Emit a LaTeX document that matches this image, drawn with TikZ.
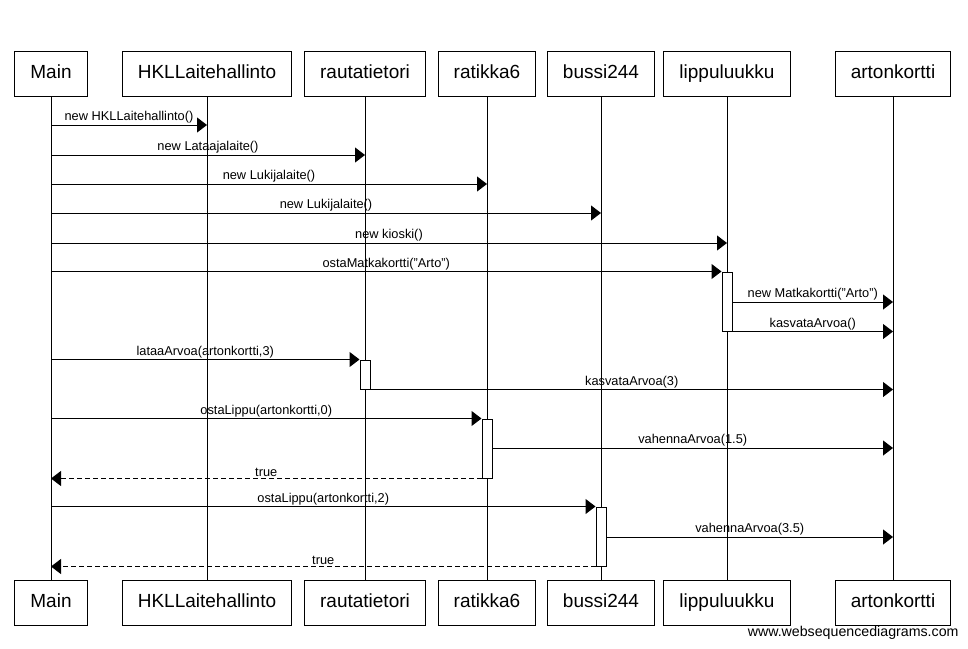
\documentclass[tikz,border=0pt]{standalone}
\usepackage{fontspec}
\setmainfont{Liberation Sans}
\usetikzlibrary{arrows.meta,positioning}

\begin{document}
\begin{tikzpicture}[x=1pt,y=-1pt,>={Triangle[length=10pt,width=15pt]},line width=1pt,
                    actor/.style={rectangle,draw,inner xsep=15.5pt,inner ysep=0pt,minimum height=45pt,
                                  text height=14pt,text depth=4pt,font=\fontsize{19}{19}\selectfont},
                    act/.style={rectangle,draw,fill=white,minimum width=10pt,inner sep=0pt},
                    msg/.style={->},
                    reply/.style={->,dash pattern=on 5pt off 3pt},
                    lbl/.style={above,inner sep=1pt,font=\fontsize{12.8}{12.8}\selectfont}]
  \useasboundingbox (0,0) rectangle (968,648);
  % participants
  \node[actor] (main) at (51,73.5) {Main};
  \node[actor] (hkl) at (207,73.5) {HKLLaitehallinto};
  \node[actor] (raut) at (365,73.5) {rautatietori};
  \node[actor] (ratikka) at (487,73.5) {ratikka6};
  \node[actor] (bussi) at (601,73.5) {bussi244};
  \node[actor] (lippu) at (727,73.5) {lippuluukku};
  \node[actor] (arton) at (893,73.5) {artonkortti};
  \node[actor] (main2) [below=483pt of main] {Main};
  \node[actor] (hkl2) [below=483pt of hkl] {HKLLaitehallinto};
  \node[actor] (raut2) [below=483pt of raut] {rautatietori};
  \node[actor] (ratikka2) [below=483pt of ratikka] {ratikka6};
  \node[actor] (bussi2) [below=483pt of bussi] {bussi244};
  \node[actor] (lippu2) [below=483pt of lippu] {lippuluukku};
  \node[actor] (arton2) [below=483pt of arton] {artonkortti};
  \node[anchor=base east,inner sep=0pt,font=\fontsize{14.2}{14.2}\selectfont] (wsd) at (959,636) {www.websequencediagrams.com};
  % lifelines
  \draw (main) -- (main2);
  \draw (hkl) -- (hkl2);
  \draw (raut) -- (raut2);
  \draw (ratikka) -- (ratikka2);
  \draw (bussi) -- (bussi2);
  \draw (lippu) -- (lippu2);
  \draw (arton) -- (arton2);
  % activations
  \node[act,minimum height=59pt] (a1) at (727,301.5) {};
  \node[act,minimum height=29pt] (a2) at (365,374.5) {};
  \node[act,minimum height=59pt] (a3) at (487,448.5) {};
  \node[act,minimum height=59pt] (a4) at (601,536.5) {};
  % messages
  \draw[msg] (main |- 0,125) -- node[lbl] {new HKLLaitehallinto()} (hkl |- 0,125);
  \draw[msg] (main |- 0,155) -- node[lbl] {new Lataajalaite()} (raut |- 0,155);
  \draw[msg] (main |- 0,184) -- node[lbl] {new Lukijalaite()} (ratikka |- 0,184);
  \draw[msg] (main |- 0,213) -- node[lbl] {new Lukijalaite()} (bussi |- 0,213);
  \draw[msg] (main |- 0,243) -- node[lbl] {new kioski()} (lippu |- 0,243);
  \draw[msg] (main |- a1.north) -- node[lbl] {ostaMatkakortti("Arto")} (a1.north west);
  \draw[msg] (a1.east |- 0,302) -- node[lbl] {new Matkakortti("Arto")} (arton |- 0,302);
  \draw[msg] (a1.south east) -- node[lbl] {kasvataArvoa()} (arton |- a1.south);
  \draw[msg] (main |- a2.north) -- node[lbl] {lataaArvoa(artonkortti,3)} (a2.north west);
  \draw[msg] (a2.south east) -- node[lbl] {kasvataArvoa(3)} (arton |- a2.south);
  \draw[msg] (main |- a3.north) -- node[lbl] {ostaLippu(artonkortti,0)} (a3.north west);
  \draw[msg] (a3.east |- 0,448) -- node[lbl] {vahennaArvoa(1.5)} (arton |- 0,448);
  \draw[reply] (a3.south west) -- node[lbl] {true} (main |- a3.south);
  \draw[msg] (main |- a4.north) -- node[lbl] {ostaLippu(artonkortti,2)} (a4.north west);
  \draw[msg] (a4.east |- 0,537) -- node[lbl] {vahennaArvoa(3.5)} (arton |- 0,537);
  \draw[reply] (a4.south west) -- node[lbl] {true} (main |- a4.south);
\end{tikzpicture}
\end{document}
